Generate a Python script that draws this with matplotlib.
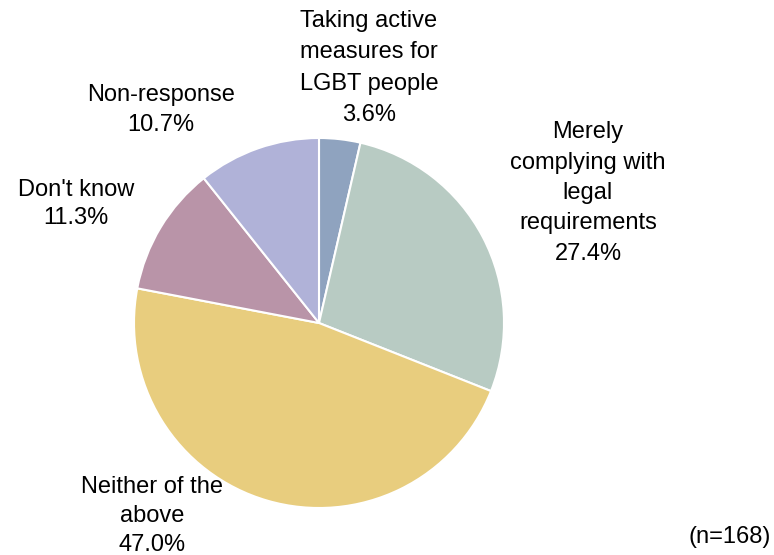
import matplotlib
matplotlib.use("Agg")
import matplotlib.pyplot as plt

plt.rcParams['font.family'] = ['Liberation Sans', 'DejaVu Sans']

categories = ["Taking active\nmeasures for\nLGBT people", "Merely\ncomplying with\nlegal\nrequirements",
              "Neither of the\nabove", "Don't know", "Non-response"]
values = [3.6, 27.4, 47.0, 11.3, 10.7]
colors = ["#8FA3BF", "#B8CBC3", "#E8CD7E", "#B994A8", "#B0B2D8"]
n_label = "(n=168)"

W, H = 774, 555
fig = plt.figure(figsize=(W / 100, H / 100), dpi=100)
ax = fig.add_axes([0, 0, 1, 1])

cx, cy, r = 319, H - 323, 185
ax.pie(values, colors=colors, startangle=90, counterclock=False,
       center=(cx, cy), radius=r, frame=True,
       wedgeprops=dict(edgecolor='white', linewidth=1.5))
ax.set_xlim(0, W)
ax.set_ylim(0, H)
ax.set_aspect('equal')
ax.axis('off')

label_pos = [(369, 68), (588, 193), (152, 516), (76, 204), (161, 110)]
line_sp = [1.53, 1.5, 1.42, 1.3, 1.45]
for cat, v, (x, y), ls in zip(categories, values, label_pos, line_sp):
    ax.text(x, H - y, f"{cat}\n{v:.1f}%", ha='center', va='center',
            fontsize=17, linespacing=ls, color='black')

ax.text(771, H - 537, n_label, ha='right', va='center', fontsize=17, color='black')

fig.savefig("out.png", dpi=100)
